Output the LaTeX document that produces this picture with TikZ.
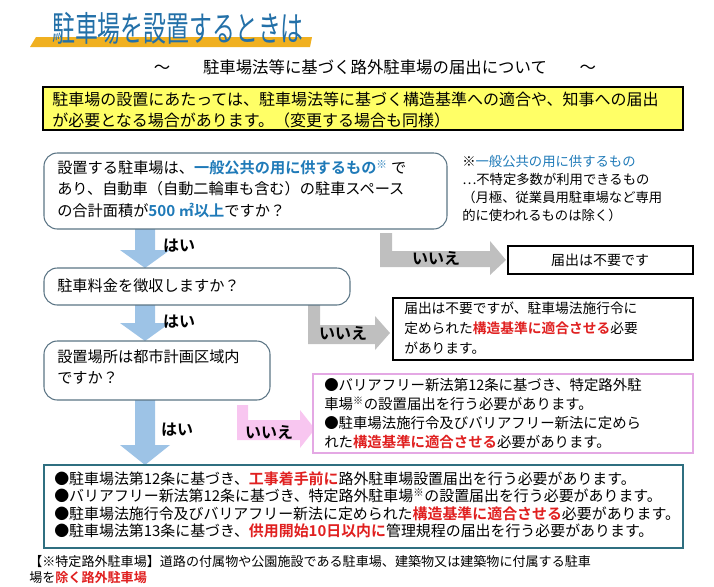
\documentclass[tikz,border=0pt]{standalone}
\usepackage{fontspec}
\setmainfont{Noto Sans CJK JP}[BoldFont={Noto Sans CJK JP Bold}]
\definecolor{tblue}{HTML}{2370A8}
\definecolor{kblue}{HTML}{1F7AB8}
\definecolor{kred}{HTML}{E02020}
\definecolor{abl}{HTML}{9DC3E6}
\definecolor{agr}{HTML}{BFBFBF}
\definecolor{apk}{HTML}{F8C6F0}
\definecolor{pkb}{HTML}{E4A8E4}
\definecolor{ybox}{HTML}{FFFF66}
\definecolor{orng}{HTML}{F0B020}
\definecolor{rbord}{HTML}{5A7484}
\definecolor{teal}{HTML}{2F6F80}
\newcommand{\kb}[1]{\textbf{\color{kblue}#1}}
\newcommand{\kr}[1]{\textbf{\color{kred}#1}}
\begin{document}
\begin{tikzpicture}[x=0.75pt,y=-0.75pt,
  txt/.style={anchor=north west,inner sep=0pt,align=left,font=\fontsize{11}{16}\selectfont},
  rbox/.style={draw=rbord,rounded corners=10pt,line width=0.8pt},
  sbox/.style={draw=black,line width=0.8pt,fill=white},
  lab/.style={font=\fontsize{12}{14}\selectfont\bfseries,inner sep=0pt}]
\useasboundingbox (0,0) rectangle (714,586);
% title
\fill[orng] (36,37) -- (312,37) -- (310,47) -- (30,47) -- cycle;
\node[anchor=west,inner sep=0pt,text=tblue,font=\fontsize{26}{30}\selectfont,xscale=0.66] (title) at (52,28) {駐車場を設置するときは};
\node[inner sep=0pt,font=\fontsize{12.3}{14}\selectfont] (sub) at (375,67) {～\qquad 駐車場法等に基づく路外駐車場の届出について\qquad ～};
% yellow box
\draw[fill=ybox,line width=0.8pt] (43,87) rectangle (683,130);
\node[txt,font=\fontsize{12}{15.5}\selectfont] (intro) at (52,92) {駐車場の設置にあたっては、駐車場法等に基づく構造基準への適合や、知事への届出\\が必要となる場合があります。（変更する場合も同様）};
% arrows
\fill[abl] (135,229) -- (155,229) -- (155,250) -- (170,250) -- (145,268) -- (120,250) -- (135,250) -- cycle;
\fill[abl] (135,305) -- (155,305) -- (155,323) -- (170,323) -- (145,341) -- (120,323) -- (135,323) -- cycle;
\fill[abl] (135,400) -- (155,400) -- (155,445) -- (170,445) -- (145,465) -- (120,445) -- (135,445) -- cycle;
\fill[agr] (380,233) -- (392,233) -- (392,251) -- (490,251) -- (490,241) -- (506,260) -- (490,275) -- (490,267) -- (380,267) -- cycle;
\fill[agr] (308,305) -- (320,305) -- (320,325) -- (375,325) -- (375,316) -- (390,333) -- (375,350) -- (375,344) -- (308,344) -- cycle;
\fill[apk] (237,405) -- (248,405) -- (248,420) -- (300,420) -- (300,410) -- (315,429) -- (300,448) -- (300,440) -- (237,440) -- cycle;
\node[lab] (y1) at (179,246) {はい};
\node[lab] (y2) at (179,322) {はい};
\node[lab] (y3) at (177,430) {はい};
\node[lab] (n1) at (436,258) {いいえ};
\node[lab] (n2) at (343,333) {いいえ};
\node[lab] (n3) at (269,432) {いいえ};
% box1
\draw[rbox] (44,153) rectangle (447,229);
\node[txt,font=\fontsize{11.4}{16}\selectfont] (q1) at (57,160) {設置する駐車場は、\kb{一般公共の用に供するもの}{\color{kblue}\textsuperscript{※}} で\\あり、自動車（自動二輪車も含む）の駐車スペース\\の合計面積が\kb{500 ㎡以上}ですか？};
\node[txt,font=\fontsize{10}{13.5}\selectfont] (note) at (462,155) {※{\color{kblue}一般公共の用に供するもの}\\…不特定多数が利用できるもの\\（月極、従業員用駐車場など専用\\的に使われるものは除く）};
\draw[sbox] (508,246) rectangle (693,274);
\node[inner sep=0pt,font=\fontsize{10.5}{12}\selectfont] (r1) at (600,260) {届出は不要です};
% box2
\draw[rbox] (44,268) rectangle (350,305);
\node[txt,font=\fontsize{11.4}{16}\selectfont] (q2) at (57,278) {駐車料金を徴収しますか？};
\draw[sbox] (393,298) rectangle (693,360);
\node[txt,font=\fontsize{10.3}{15}\selectfont] (r2) at (404,302) {届出は不要ですが、駐車場法施行令に\\定められた\kr{構造基準に適合させる}必要\\があります。};
% box3
\draw[rbox] (44,341) rectangle (270,400);
\node[txt,font=\fontsize{11.4}{16}\selectfont] (q3) at (57,349) {設置場所は都市計画区域内\\ですか？};
\draw[draw=pkb,line width=2.2pt,fill=white] (313,374) rectangle (693,453);
\node[txt,font=\fontsize{10.8}{14.3}\selectfont] (r3) at (324,378) {●バリアフリー新法第12条に基づき、特定路外駐\\車場\textsuperscript{※}の設置届出を行う必要があります。\\●駐車場法施行令及びバリアフリー新法に定めら\\れた\kr{構造基準に適合させる}必要があります。};
% bottom
\draw[draw=teal,line width=0.9pt] (44,465) rectangle (683,548);
\node[txt,font=\fontsize{11.2}{13.2}\selectfont] (r4) at (54,471) {●駐車場法第12条に基づき、\kr{工事着手前に}路外駐車場設置届出を行う必要があります。\\●バリアフリー新法第12条に基づき、特定路外駐車場\textsuperscript{※}の設置届出を行う必要があります。\\●駐車場法施行令及びバリアフリー新法に定められた\kr{構造基準に適合させる}必要があります。\\●駐車場法第13条に基づき、\kr{供用開始10日以内に}管理規程の届出を行う必要があります。};
\node[txt,font=\fontsize{9.8}{12.5}\selectfont] (foot) at (29,555) {【※特定路外駐車場】道路の付属物や公園施設である駐車場、建築物又は建築物に付属する駐車\\場を\kr{除く路外駐車場}};
\end{tikzpicture}
\end{document}
